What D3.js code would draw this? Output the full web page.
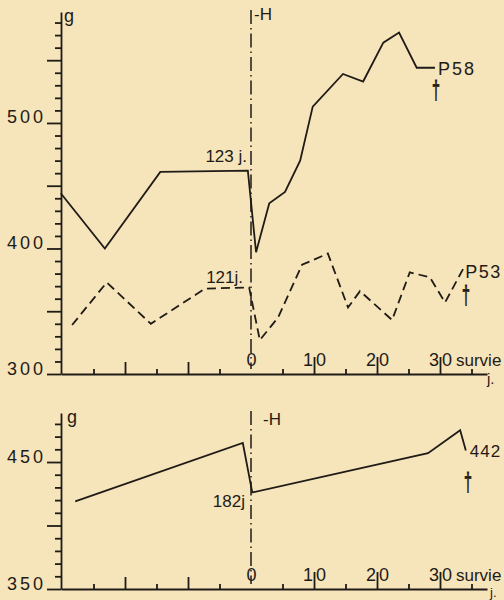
<!DOCTYPE html>
<html><head><meta charset="utf-8">
<script src="https://cdn.jsdelivr.net/npm/d3@7"></script>
<style>
html,body{margin:0;padding:0;background:#f6e4bb;}
svg{display:block;}
text{font-family:"Liberation Sans",Arial,sans-serif;fill:#1f1b16;}
</style></head><body>
<svg id="c" width="504" height="600"></svg>
<script>
// ---- data (days relative to hormone treatment "-H", weight in g) ----
const p58Days    = [-30.2, -23.2, -14.4, -0.5, 0.8, 2.9, 5.4, 7.8, 9.8, 14.6, 17.8, 21.0, 23.5, 26.3, 29.2];
const p58Weights = [444, 400, 461, 462, 397, 436, 445, 470, 513, 539, 533, 564, 572, 544, 544];
const p53Days    = [-28.4, -22.9, -15.9, -7.3, -0.3, 1.4, 4.3, 8.1, 12.2, 15.4, 17.3, 22.4, 25.2, 28.4, 30.8, 33.7];
const p53Weights = [339, 373, 340, 368, 369, 327, 345, 387, 396, 353, 366, 343, 381, 377, 357, 384];
const botDays    = [-27.9, -1.3, 0.2, 28.1, 33.2, 34.1];
const botWeights = [419, 465, 426, 457, 475, 459];

const xLabelTicks = [0, 10, 20, 30];
const xLongTicks  = [-20, -10];
const xShortTicks = [-25, -15, -5, 5, 15, 25, 35];
const topYLabels  = [300, 400, 500];
const topYLong    = [350, 450, 550];
const botYLabels  = [350, 450];
const botYLong    = [400];

const ink = "#1f1b16";
const svg = d3.select("#c");

const x = d3.scaleLinear().domain([-30.16, 37.46]).range([61, 487]);
const yTop = d3.scaleLinear().domain([300, 588.4]).range([374, 12]);
const yBot = d3.scaleLinear().domain([350, 488.6]).range([589, 413]);

function styleAxis(g){
  g.selectAll("path,line").attr("stroke", ink).attr("stroke-width", 1.8);
  g.selectAll("text").attr("fill", ink).style("font-family","Liberation Sans, Arial, sans-serif");
}

function panel(y, yLabels, yLong, axisY, minorFrom, minorTo, bottom){
  const minor = d3.range(minorFrom, minorTo + 1, 10).filter(v => !yLabels.includes(v) && !yLong.includes(v));
  svg.append("g").attr("transform","translate(61,0)")
    .call(d3.axisLeft(y).tickValues(minor).tickSize(6).tickSizeOuter(0).tickFormat(""))
    .call(styleAxis);
  svg.append("g").attr("transform","translate(61,0)")
    .call(d3.axisLeft(y).tickValues(yLong).tickSize(14).tickSizeOuter(0).tickFormat(""))
    .call(styleAxis).select(".domain").remove();
  const yl = svg.append("g").attr("transform","translate(61,0)")
    .call(d3.axisLeft(y).tickValues(yLabels).tickSize(14).tickPadding(4).tickSizeOuter(0).tickFormat(d3.format("d")))
    .call(styleAxis);
  yl.select(".domain").remove();
  yl.selectAll("text").attr("dy","0").attr("dx","3").style("font-size","18px").style("letter-spacing","3px");

  // x axis
  svg.append("g").attr("transform",`translate(0,${axisY})`)
    .call(d3.axisTop(x).tickValues(xShortTicks).tickSize(5).tickSizeOuter(0).tickFormat(""))
    .call(styleAxis);
  svg.append("g").attr("transform",`translate(0,${axisY})`)
    .call(d3.axisTop(x).tickValues(xLongTicks).tickSize(12).tickSizeOuter(0).tickFormat(""))
    .call(styleAxis).select(".domain").remove();
  svg.append("g").attr("transform",`translate(0,${axisY})`)
    .call(d3.axisTop(x).tickValues(xLabelTicks.filter(d=>d!==0)).tickSize(17).tickSizeOuter(0).tickFormat(""))
    .call(styleAxis).select(".domain").remove();
  const xl = svg.append("g").attr("transform",`translate(0,${axisY})`)
    .call(d3.axisTop(x).tickValues(xLabelTicks).tickSize(0).tickPadding(8).tickSizeOuter(0).tickFormat(d3.format("d")))
    .call(styleAxis);
  xl.select(".domain").remove();
  xl.selectAll("text").style("font-size","18px").style("letter-spacing", d => d===0 ? "0px" : "3px")
    .attr("dx", d => d===0 ? "0" : "1.5");
  // survie / j.
  svg.append("text").attr("x", 456).attr("y", axisY - 8).style("font-size","17px").text("survie");
  svg.append("text").attr("x", bottom ? 490 : 487).attr("y", bottom ? 597 : axisY + 10)
    .style("font-size", bottom ? "13px" : "15px").text("j.");
  // dash-dot -H line
  svg.append("line").attr("x1", x(0)).attr("x2", x(0))
    .attr("y1", y.range()[1] - 2).attr("y2", axisY - 5)
    .attr("stroke", ink).attr("stroke-width", 1.5).attr("stroke-dasharray", "14,4,1.5,4");
  svg.append("text").attr("x", x(0) + (bottom ? 12 : 3)).attr("y", y.range()[1] + (bottom ? 12 : 8))
    .style("font-size","17px").text("-H");
  svg.append("text").attr("x", 64 + (bottom ? 3 : 0)).attr("y", y.range()[1] + 10)
    .style("font-size","18px").text("g");
}

panel(yTop, topYLabels, topYLong, 374, 310, 580, false);
panel(yBot, botYLabels, botYLong, 589, 360, 480, true);

// ---- series ----
const mk = (days, w, y) => d3.line().x((d,i)=>x(days[i])).y((d,i)=>y(w[i]))(days);
svg.append("path").attr("d", mk(p58Days, p58Weights, yTop)).attr("fill","none")
  .attr("stroke", ink).attr("stroke-width", 1.8).attr("stroke-linejoin","miter");
svg.append("path").attr("d", mk(p53Days, p53Weights, yTop)).attr("fill","none")
  .attr("stroke", ink).attr("stroke-width", 1.8).attr("stroke-dasharray","9,5");
svg.append("path").attr("d", mk(botDays, botWeights, yBot)).attr("fill","none")
  .attr("stroke", ink).attr("stroke-width", 1.8);

// ---- annotations ----
function label(t, xx, yy, size, anchor, ls){
  return svg.append("text").attr("x", xx).attr("y", yy).attr("text-anchor", anchor || "start")
    .style("font-size", size + "px").style("letter-spacing", (ls||0) + "px").text(t);
}
const lastP58 = p58Days.length - 1, lastP53 = p53Days.length - 1, lastB = botDays.length - 1;
label("P58", x(p58Days[lastP58]) + 3, yTop(p58Weights[lastP58]) + 7, 18, "start", 2);
label("P53", x(p53Days[lastP53]) + 2, yTop(p53Weights[lastP53]) + 9, 18, "start", 1.5);
label("442", x(botDays[lastB]) + 4, yBot(botWeights[lastB]) + 6, 17, "start", 1);
label("123 j.", 247, 162, 17, "end");
label("121j.", 243, 283, 17, "end");
label("182j", 245, 507, 17, "end");

function dagger(xx, yTopPx){
  svg.append("text").attr("transform", `translate(${xx},${yTopPx + 19}) scale(0.55,1)`)
    .attr("text-anchor","middle").style("font-size","26px")
    .attr("stroke", ink).attr("stroke-width", 0.9).text("†");
}
dagger(436, 80);
dagger(466, 285);
dagger(468, 472);
</script>
</body></html>
